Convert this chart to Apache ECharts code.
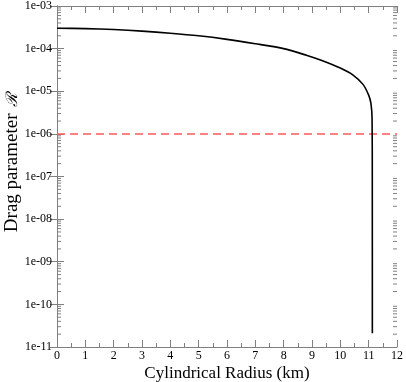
<!DOCTYPE html>
<html>
<head>
<meta charset="utf-8">
<script src="https://cdn.jsdelivr.net/npm/echarts@6/dist/echarts.min.js"></script>
<style>
html, body { margin: 0; padding: 0; background: #fff; }
#chart { width: 406px; height: 382px; }
</style>
</head>
<body>
<div id="chart"></div>
<script>
// cylindrical radius (km) and drag parameter
var radius = [0, 1, 2, 3, 4, 5, 6, 7, 8, 8.8, 9.3, 10.0, 10.45, 10.8, 11.0, 11.08, 11.12, 11.128, 11.13];
var drag = [3.0e-4, 2.95e-4, 2.8e-4, 2.57e-4, 2.3e-4, 2.0e-4, 1.65e-4, 1.3e-4, 1.0e-4, 7.0e-5, 5.4e-5, 3.5e-5, 2.4e-5, 1.45e-5, 8.1e-6, 5.2e-6, 2.3e-6, 1e-7, 2.1e-11];
var thresholdX = [0, 12];
var thresholdY = [1e-6, 1e-6];
var decades = [-11, -10, -9, -8, -7, -6, -5, -4, -3];

var axisGrey = '#808080';
var serif = 'Liberation Serif';

function fmtExp(v) {
	var e = Math.round(Math.log(v) / Math.LN10);
	var s = Math.abs(e) < 10 ? '0' + Math.abs(e) : '' + Math.abs(e);
	return '1e' + (e < 0 ? '-' : '+') + s;
}

function curveData() {
	var out = [];
	for (var i = 0; i < radius.length; i++) out.push([radius[i], drag[i]]);
	return out;
}

function lineData() {
	var out = [];
	for (var i = 0; i < thresholdX.length; i++) out.push([thresholdX[i], thresholdY[i]]);
	return out;
}

var xCommon = {
	type: 'value', min: 0, max: 12, interval: 1,
	axisLine: { lineStyle: { color: axisGrey, width: 1 } },
	axisTick: { inside: true, length: 7, lineStyle: { color: axisGrey } },
	minorTick: { show: true, splitNumber: 2, length: 4, lineStyle: { color: axisGrey } },
	splitLine: { show: false }
};
var yCommon = {
	type: 'log', logBase: 10, min: 1e-11, max: 1e-3,
	axisLine: { show: true, lineStyle: { color: axisGrey, width: 1 } },
	axisTick: { show: true, inside: true, length: 7, lineStyle: { color: axisGrey } },
	splitLine: { show: false }
};

var option = {
	animation: false,
	backgroundColor: '#fff',
	grid: { left: 57, right: 9, top: 6, bottom: 35, containLabel: false, outerBoundsMode: 'none' }
};

option.xAxis = [
	Object.assign({}, xCommon, {
		position: 'bottom',
		name: 'Cylindrical Radius (km)',
		nameLocation: 'middle',
		nameGap: 18,
		nameMoveOverlap: false,
		nameTextStyle: { fontFamily: serif, fontSize: 17, color: '#000' },
		axisLabel: { fontFamily: serif, fontSize: 12, color: '#000', margin: 3 }
	}),
	Object.assign({}, xCommon, { position: 'top', axisLabel: { show: false } })
];
option.yAxis = [
	Object.assign({}, yCommon, {
		position: 'left',
		name: '{n|Drag parameter}  {r|ℛ}',
		nameLocation: 'middle',
		nameGap: 35,
		nameMoveOverlap: false,
		nameTextStyle: {
			padding: [0, 0, 0, 28],
			rich: {
				n: { fontFamily: serif, fontSize: 19, color: '#000' },
				r: { fontFamily: serif, fontSize: 16, fontStyle: 'italic', color: '#000' }
			}
		},
		axisLabel: { fontFamily: serif, fontSize: 12, color: '#000', margin: 5, formatter: fmtExp }
	}),
	Object.assign({}, yCommon, { position: 'right', axisLabel: { show: false } })
];

option.series = [
	{
		type: 'line',
		data: lineData(),
		showSymbol: false,
		silent: true,
		lineStyle: { color: '#ff5a5a', width: 1.5, type: [8, 5] }
	},
	{
		type: 'line',
		data: curveData(),
		showSymbol: false,
		silent: true,
		smooth: 0.25,
		lineStyle: { color: '#000', width: 1.6 }
	}
];

var chart = echarts.init(document.getElementById('chart'), null, { renderer: 'canvas' });
chart.setOption(option);

// log minor ticks (2..9 per decade) on left and right edges, placed via the y scale
var ticks = [];
for (var d = 0; d < decades.length - 1; d++) {
	for (var m = 2; m <= 9; m++) {
		var v = m * Math.pow(10, decades[d]);
		var a = chart.convertToPixel({ xAxisIndex: 0, yAxisIndex: 0 }, [0, v]);
		var b = chart.convertToPixel({ xAxisIndex: 0, yAxisIndex: 0 }, [12, v]);
		var st = { stroke: axisGrey, lineWidth: 1 };
		ticks.push({ type: 'line', silent: true, shape: { x1: a[0], y1: a[1], x2: a[0] + 4, y2: a[1] }, style: st });
		ticks.push({ type: 'line', silent: true, shape: { x1: b[0] - 4, y1: b[1], x2: b[0], y2: b[1] }, style: st });
	}
}
chart.setOption({ graphic: ticks });
</script>
</body>
</html>
